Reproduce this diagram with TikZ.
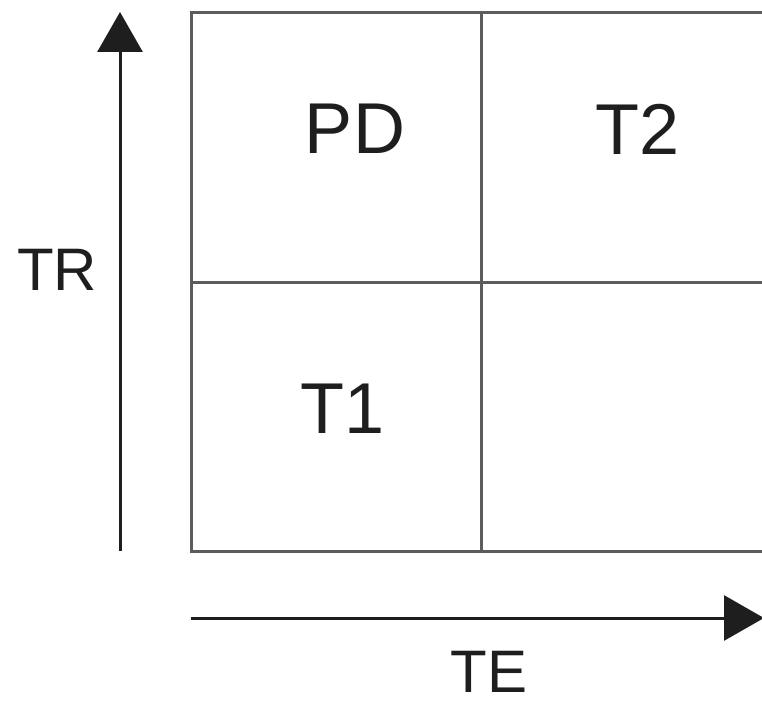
\documentclass[tikz,border=0pt]{standalone}
\usepackage{fontspec}
\setmainfont{Liberation Sans}
\usetikzlibrary{arrows.meta}
\definecolor{gridgray}{HTML}{5C5C5C}
\definecolor{inkblack}{HTML}{1E1E1E}
\tikzset{
cell label/.style={text=inkblack, font=\fontsize{72}{80}\selectfont, inner sep=0pt},
axis label/.style={text=inkblack, font=\fontsize{60}{70}\selectfont, inner sep=0pt},
grid line/.style={draw=gridgray, line width=3pt},
axis arrow/.style={draw=inkblack, line width=3pt, -{Triangle[length=40pt,width=45pt]}}
}

\begin{document}
\begin{tikzpicture}[x=1pt,y=-1pt]
    \useasboundingbox (0,0) rectangle (762,701);
    \clip (0,0) rectangle (762,701);
    % quadrant grid
    \coordinate (nw) at (191,13);
    \coordinate (se) at (775,551);
    \coordinate (top mid) at (481,13);
    \coordinate (bot mid) at (481,551);
    \coordinate (left mid) at (191,282);
    \coordinate (right mid) at (775,282);
    \draw[grid line] (nw) rectangle (se);
    \draw[grid line] (top mid) -- (bot mid);
    \draw[grid line] (left mid) -- (right mid);
    % cells
    \node[cell label] (pd) at (355,129) {PD};
    \node[cell label] (t2) at (638,129) {T2};
    \node[cell label] (t1) at (343,409) {T1};
    % axes
    \coordinate (tr base) at (120,551);
    \coordinate (tr tip) at (120,12);
    \coordinate (te base) at (191,618);
    \coordinate (te tip) at (764,618);
    \draw[axis arrow] (tr base) -- (tr tip);
    \draw[axis arrow] (te base) -- (te tip);
    \node[axis label] (tr) at (57,270) {TR};
    \node[axis label] (te) at (489,672) {TE};
\end{tikzpicture}
\end{document}
